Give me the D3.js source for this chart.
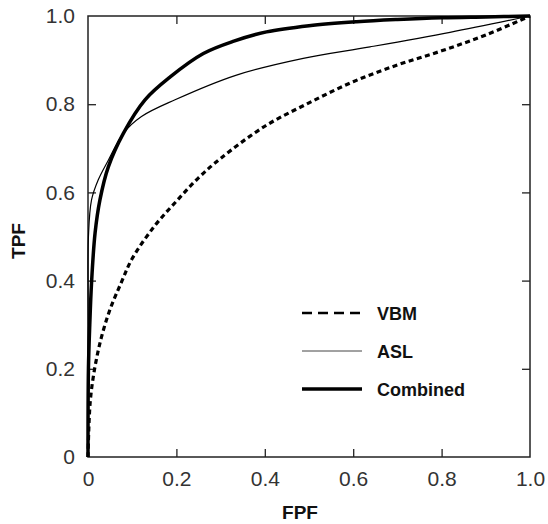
<!DOCTYPE html>
<html>
<head>
<meta charset="utf-8">
<script src="https://cdn.jsdelivr.net/npm/d3@7"></script>
<style>
  body { margin: 0; background: #fff; }
  text { font-family: "Liberation Sans", Arial, sans-serif; }
</style>
</head>
<body>
<svg id="chart"></svg>
<script>
// ROC curves (FPF, TPF)
var vbmFPF = [0, 0.005, 0.015, 0.03, 0.05, 0.075, 0.1, 0.15, 0.2, 0.25, 0.3, 0.4, 0.5, 0.6, 0.7, 0.8, 0.9, 1];
var vbmTPF = [0, 0.125, 0.2, 0.27, 0.335, 0.395, 0.45, 0.523, 0.58, 0.633, 0.677, 0.75, 0.803, 0.851, 0.889, 0.921, 0.957, 1];

var aslFPF = [0, 0.0005, 0.001, 0.008, 0.023, 0.046, 0.08, 0.121, 0.197, 0.336, 0.487, 0.638, 0.819, 1];
var aslTPF = [0, 0.3, 0.5, 0.583, 0.628, 0.673, 0.734, 0.772, 0.81, 0.866, 0.904, 0.930, 0.963, 1];

var combFPF = [0, 0.001, 0.004, 0.008, 0.016, 0.027, 0.046, 0.08, 0.129, 0.186, 0.261, 0.33, 0.404, 0.5, 0.608, 0.7, 0.8, 0.9, 1];
var combTPF = [0, 0.2, 0.3, 0.395, 0.508, 0.583, 0.658, 0.734, 0.81, 0.862, 0.915, 0.943, 0.964, 0.978, 0.987, 0.992, 0.996, 0.998, 1];

var ticks = [0, 0.2, 0.4, 0.6, 0.8, 1.0];
var tickLabels = ["0", "0.2", "0.4", "0.6", "0.8", "1.0"];
var legendNames = ["VBM", "ASL", "Combined"];

var W = 548, H = 524;
var margin = {top: 16, right: 18, bottom: 67, left: 88};
var width = W - margin.left - margin.right,
    height = H - margin.top - margin.bottom;

var svg = d3.select("#chart").attr("width", W).attr("height", H);
var g = svg.append("g").attr("transform", "translate(" + margin.left + "," + margin.top + ")");

var x = d3.scaleLinear().domain([0, 1]).range([0, width]);
var y = d3.scaleLinear().domain([0, 1]).range([height, 0]);

//frame
g.append("rect")
  .attr("width", width).attr("height", height)
  .attr("fill", "none").attr("stroke", "#222").attr("stroke-width", 1.5);

//inward ticks on all four sides
function fmt(d) { return tickLabels[ticks.indexOf(d)]; }
var tl = 8;
var axB = g.append("g").attr("transform", "translate(0," + height + ")")
  .call(d3.axisBottom(x).tickValues(ticks).tickSize(-tl).tickPadding(14).tickFormat(fmt));
var axL = g.append("g")
  .call(d3.axisLeft(y).tickValues(ticks).tickSize(-tl).tickPadding(13).tickFormat(fmt));
var axT = g.append("g")
  .call(d3.axisTop(x).tickValues(ticks).tickSize(-tl).tickFormat(""));
var axR = g.append("g").attr("transform", "translate(" + width + ",0)")
  .call(d3.axisRight(y).tickValues(ticks).tickSize(-tl).tickFormat(""));

[axB, axL, axT, axR].forEach(function(a) {
  a.select(".domain").remove();
  a.selectAll(".tick line").attr("stroke", "#222").attr("stroke-width", 1.3);
  a.selectAll(".tick text").attr("fill", "#333").attr("font-size", 21)
    .style("font-family", "'Liberation Sans', Arial, sans-serif");
  //end ticks sit on the frame
  a.selectAll(".tick").filter(function(d) { return d === 0 || d === 1; }).select("line").remove();
});

//axis titles
svg.append("text")
  .attr("x", margin.left + width / 2 - 9).attr("y", 519)
  .attr("text-anchor", "middle").attr("font-weight", "bold").attr("font-size", 19)
  .attr("fill", "#111").text("FPF");
svg.append("text")
  .attr("transform", "translate(25," + 241 + ") rotate(-90)")
  .attr("text-anchor", "middle").attr("font-weight", "bold").attr("font-size", 19)
  .attr("fill", "#111").text("TPF");

//curves
var line = d3.line()
  .curve(d3.curveCatmullRom.alpha(0.5))
  .x(function(d) { return x(d[0]); })
  .y(function(d) { return y(d[1]); });

function pairs(a, b) { return a.map(function(v, i) { return [v, b[i]]; }); }

var series = [
  {name: legendNames[0], pts: pairs(vbmFPF, vbmTPF), w: 3.2, dash: "5,3.5"},
  {name: legendNames[1], pts: pairs(aslFPF, aslTPF), w: 1.2, dash: null},
  {name: legendNames[2], pts: pairs(combFPF, combTPF), w: 3.5, dash: null}
];

g.selectAll(".roc")
  .data(series)
  .enter().append("path")
  .attr("class", "roc")
  .attr("d", function(d) { return line(d.pts); })
  .attr("fill", "none")
  .attr("stroke", "#000")
  .attr("stroke-width", function(d) { return d.w; })
  .attr("stroke-dasharray", function(d) { return d.dash; });

//legend
var legW = [2.6, 1, 3.5], legDash = ["10,6", null, null];
var leg = svg.selectAll(".leg")
  .data(series)
  .enter().append("g")
  .attr("class", "leg")
  .attr("transform", function(d, i) { return "translate(302," + (313 + i * 38) + ")"; });
leg.append("line")
  .attr("x1", 0).attr("x2", 60)
  .attr("stroke", function(d, i) { return i === 1 ? "#444" : "#000"; })
  .attr("stroke-width", function(d, i) { return legW[i]; })
  .attr("stroke-dasharray", function(d, i) { return legDash[i]; });
leg.append("text")
  .attr("x", 75).attr("y", 7)
  .attr("font-weight", "bold").attr("font-size", 18)
  .attr("fill", "#111")
  .text(function(d) { return d.name; });
</script>
</body>
</html>
